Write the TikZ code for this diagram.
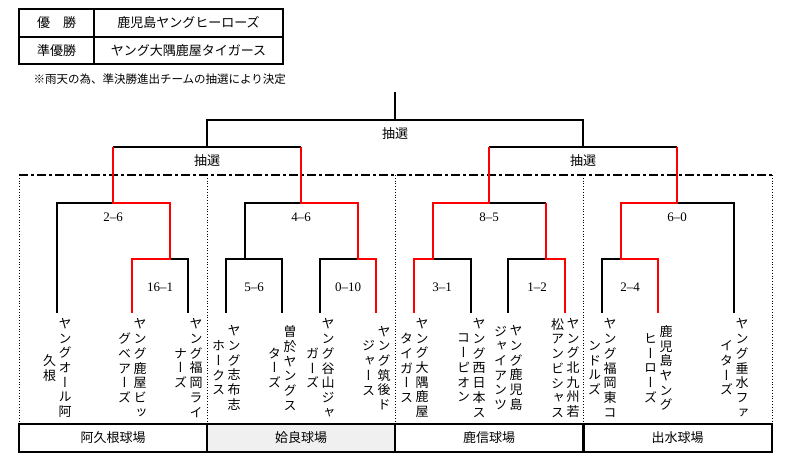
\documentclass[tikz,border=0pt]{standalone}
\usepackage{fontspec}
\setmainfont{Liberation Serif}
\newfontfamily\jpfont{Noto Sans CJK JP}
\newfontfamily\jpvfont[RawFeature=+vert]{Noto Sans CJK JP}
\usetikzlibrary{calc}
\usetikzlibrary{positioning}

\newcommand\tate[1]{\vbox{\lineskip=0pt\lineskiplimit=-\maxdimen\expandafter\tatestep#1\relax}}
\def\tatestep#1{\ifx\relax#1\else\hbox to 15bp{\hss#1\hss}\expandafter\tatestep\fi}

\begin{document}
\begin{tikzpicture} [x=1bp, y=-1bp, font=\jpfont\fontsize{13bp}{15bp}\selectfont,
  bar/.style={line width=1.3bp},
  win/.style={red, line width=2.6bp},
  team/.style={inner sep=0pt, font=\jpvfont\fontsize{13bp}{14.7bp}\selectfont},
  score/.style={font=\rmfamily\fontsize{13bp}{15bp}\selectfont, inner sep=1pt},
  venue/.style={draw, line width=2bp, minimum width=188bp, minimum height=28bp, inner sep=0pt}]
\useasboundingbox (0,0) rectangle (785,466);

\draw[bar] (19,9) rectangle (283,64) (94,9) -- (94,64) (19,37) -- (283,37);
\node (champ) at (56.5,23) {優　勝};
\node (champteam) at (188.5,23) {鹿児島ヤングヒーローズ};
\node (second) at (56.5,50.5) {準優勝};
\node (secondteam) at (188.5,50.5) {ヤング大隅鹿屋タイガース};
\node[anchor=west, font=\jpfont\fontsize{11.5bp}{13bp}\selectfont] (memo) at (30,79) {※雨天の為、準決勝進出チームの抽選により決定};

\draw[line width=2bp, dash pattern=on 9bp off 3bp on 3bp off 3bp] (19,175) -- (772,175);
\foreach \x in {19,207,395,583,772} \draw[dotted, line width=.8bp] (\x,175) -- (\x,424);

\foreach \n/\x in {1/57,2/132,3/188,4/226,5/282,6/320,7/376,8/414,9/471,10/508,11/565,12/602,13/658,14/734} \coordinate (p\n) at (\x,313);
\coordinate (r1) at (170,259);
\coordinate (r2a) at (245,259);
\coordinate (r2b) at (358,259);
\coordinate (r3a) at (433,259);
\coordinate (r3b) at (546,259);
\coordinate (r4) at (621,259);
\coordinate (q1) at (113,203);
\coordinate (q2) at (301,203);
\coordinate (q3) at (489,203);
\coordinate (q4) at (677,203);
\coordinate (s1) at (207,147);
\coordinate (s2) at (583,147);
\coordinate (f) at (395,120);
\coordinate (top) at (395,92);

\draw[bar] (top) -- (f) (s1) |- (f) -| (s2) (q1 |- s1) -- (q2 |- s1) (q3 |- s2) -- (q4 |- s2);
\draw[bar] (p1) |- (q1) (r1) -| (p3);
\draw[bar] (q2) -| (r2a) (p4) |- (r2a) -| (p5) (p6) |- (r2b);
\draw[bar] (q3) -- (r3b |- q3) (r3a) -| (p9) (p10) |- (r3b);
\draw[bar] (q4) -| (p14) (p12) |- (r4);

\draw[win] (q1 |- s1) -- (q1) -| (r1) -| (p2);
\draw[win] (q2 |- s1) -- (q2) -| (r2b) -| (p7);
\draw[win] (q3 |- s2) -- (q3) -| (r3a) -| (p8);
\draw[win] (r3b |- q3) -- (r3b) -| (p11);
\draw[win] (q4 |- s2) -- (q4) -| (r4) -| (p13);

\foreach \n/\x/\y in {0/395/134, 1/207/161, 2/583/161} \node (lot\n) at (\x,\y) {抽選};

\foreach \n/\x/\y/\s in {1/113/217/2–6, 2/160/287/16–1, 3/301/217/4–6, 4/254/287/5–6, 5/348/287/0–10, 6/489/217/8–5, 7/442/287/3–1, 8/537/287/1–2, 9/677/217/6–0, 10/630/287/2–4} \node[score] (m\n) at (\x,\y) {\s};

\foreach \n/\a/\b in {1/ヤングオール阿/久根, 2/ヤング鹿屋ビッ/グベアーズ, 3/ヤング福岡ライ/ナーズ, 4/ヤング志布志/ホークス, 5/曽於ヤングス/ターズ, 6/ヤング谷山ジャ/ガーズ, 7/ヤング筑後ド/ジャース, 8/ヤング大隅鹿屋/タイガース, 9/ヤング西日本ス/コーピオン, 10/ヤング鹿児島/ジャイアンツ, 11/ヤング北九州若/松アンビシャス, 12/ヤング福岡東コ/ンドルズ, 13/鹿児島ヤング/ヒーローズ, 14/ヤング垂水ファ/イターズ} {
  \node[team] (t\n) at ($(p\n)+(8,55)$) {\tate{\a}};
  \node[team, left=0pt of t\n] (u\n) {\tate{\b}};
}

\foreach \n/\x/\c/\v in {1/113/white/阿久根球場, 2/301/black!6/姶良球場, 3/489/white/鹿信球場, 4/677.5/white/出水球場} \node[venue, fill=\c] (v\n) at (\x,438) {\v};

\end{tikzpicture}
\end{document}
